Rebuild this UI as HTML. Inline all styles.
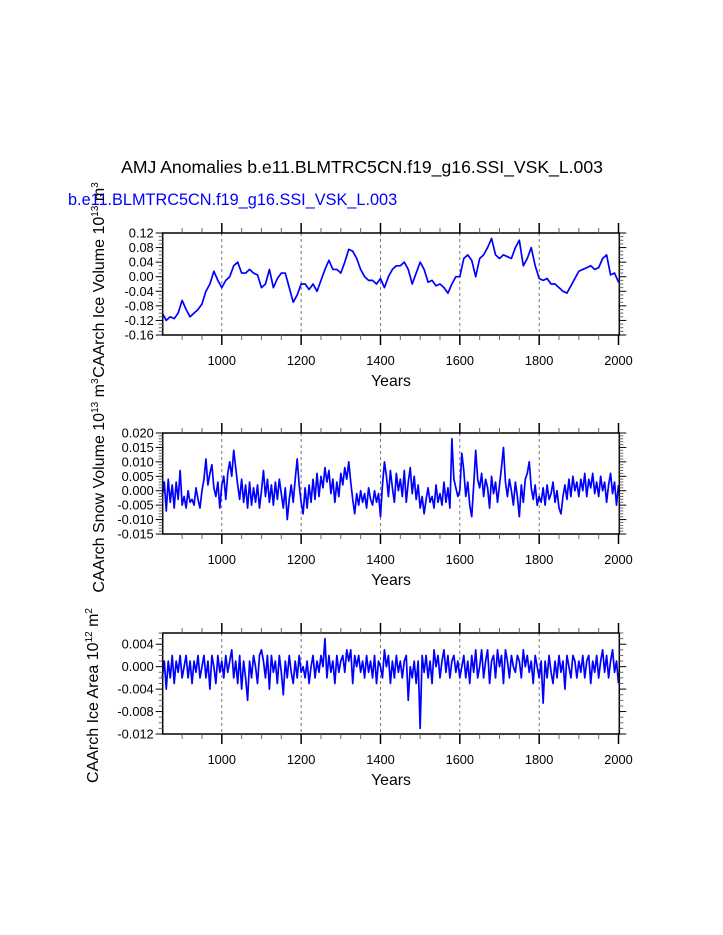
<!DOCTYPE html>
<html><head><meta charset="utf-8">
<style>
html,body{margin:0;padding:0;background:#fff;}
svg{display:block;font-family:"Liberation Sans",Arial,sans-serif;}
</style></head>
<body>
<svg id="chart" width="723" height="935" viewBox="0 0 723 935" xmlns="http://www.w3.org/2000/svg">
<rect width="723" height="935" fill="#fff"/>
<text x="362" y="173" font-size="17.6" text-anchor="middle" fill="#000">AMJ Anomalies b.e11.BLMTRC5CN.f19_g16.SSI_VSK_L.003</text>
<text x="68" y="205" font-size="16.3" fill="#0000ff">b.e11.BLMTRC5CN.f19_g16.SSI_VSK_L.003</text>
<g id="plots"></g>
</svg>
<script>
// Panel 1: ice volume, every 10 years from 850
const years1Start = 850, years1Step = 10;
const iceVolume = [-0.10,-0.12,-0.11,-0.115,-0.10,-0.065,-0.09,-0.11,-0.10,-0.09,-0.075,-0.04,-0.02,0.015,-0.01,-0.03,-0.01,0.0,0.03,0.04,0.01,0.01,0.02,0.01,0.005,-0.03,-0.02,0.02,-0.03,-0.005,0.01,0.01,-0.03,-0.07,-0.05,-0.02,-0.02,-0.035,-0.02,-0.04,-0.01,0.02,0.045,0.02,0.02,0.01,0.04,0.075,0.07,0.05,0.02,0.0,-0.01,-0.01,-0.02,-0.005,-0.03,0.0,0.02,0.03,0.03,0.04,0.02,-0.02,0.01,0.04,0.02,-0.015,-0.01,-0.025,-0.02,-0.03,-0.045,-0.02,0.0,0.0,0.05,0.06,0.045,0.0,0.05,0.06,0.08,0.105,0.06,0.05,0.06,0.055,0.05,0.08,0.1,0.03,0.05,0.08,0.03,-0.005,-0.01,-0.005,-0.02,-0.02,-0.03,-0.04,-0.045,-0.025,-0.005,0.015,0.02,0.025,0.03,0.02,0.025,0.05,0.06,0.005,0.01,-0.015];
// Panel 2: snow volume, every 5 years from 850
const years2Start = 850, years2Step = 5;
const snowVolume = [-0.002,0.003,-0.007,0.004,-0.004,0.002,-0.006,0.003,-0.003,0.007,-0.005,
-0.002,-0.006,0.0,-0.004,-0.003,-0.005,0.001,-0.003,-0.006,0.0,
0.004,0.011,0.002,0.006,0.009,0.001,-0.002,0.003,-0.006,0.002,
0.005,-0.003,0.006,0.010,0.005,0.014,0.008,0.002,-0.003,0.004,
-0.004,0.002,-0.006,0.003,-0.005,0.001,-0.004,0.002,-0.006,0.000,
0.007,-0.002,0.004,-0.004,0.002,-0.005,0.003,-0.003,0.004,-0.001,
-0.006,0.001,-0.010,-0.003,0.002,-0.004,0.004,0.011,0.002,-0.004,
-0.008,0.001,-0.006,0.002,-0.004,0.004,-0.003,0.006,-0.002,0.005,
0.001,0.008,0.003,0.007,-0.001,0.004,-0.004,0.003,-0.002,0.006,
0.002,0.008,0.004,0.010,0.003,-0.003,-0.008,-0.001,-0.005,0.000,
-0.004,-0.001,-0.006,0.001,-0.003,-0.005,0.0,-0.004,-0.001,-0.009,
0.002,0.010,0.005,-0.002,0.007,0.001,-0.004,0.006,0.0,0.004,
-0.002,0.007,-0.004,0.003,0.008,-0.001,0.005,-0.003,0.002,-0.006,
-0.002,-0.008,-0.003,0.001,-0.004,-0.002,-0.006,0.002,-0.004,-0.001,
-0.005,0.003,-0.004,0.001,-0.006,0.018,0.004,0.001,-0.002,0.0,
0.013,0.007,-0.002,0.003,-0.005,-0.009,0.002,0.014,0.004,0.001,
0.006,-0.002,0.004,0.001,-0.006,0.005,-0.001,0.003,-0.004,0.002,
0.008,0.015,0.003,-0.002,0.004,0.0,-0.005,0.003,-0.002,-0.009,
0.002,-0.004,0.004,0.006,0.010,0.001,-0.003,0.002,-0.005,-0.002,
-0.004,0.001,-0.005,0.002,-0.003,-0.001,0.003,-0.004,0.0,-0.006,
-0.008,-0.002,0.002,-0.003,0.004,-0.002,0.005,0.000,0.003,-0.002,
0.004,0.000,0.006,-0.002,0.004,0.001,0.006,-0.001,0.003,-0.002,
0.005,0.000,0.003,-0.004,0.002,0.006,-0.001,0.003,-0.005,0.002];
// Panel 3: ice area, every 5 years from 850
const years3Start = 850, years3Step = 5;
const iceArea = [-0.002,0.001,-0.004,0.001,-0.002,0.002,-0.003,0.001,-0.001,0.002,-0.002,
0.0,0.002,-0.002,0.001,-0.003,0.001,-0.001,0.002,-0.002,0.0,
0.002,-0.002,0.001,-0.004,0.002,0.0,-0.003,0.002,-0.001,0.001,
-0.002,0.002,-0.001,0.001,0.003,-0.002,0.001,-0.003,0.002,-0.004,
0.001,-0.002,-0.006,0.001,-0.002,0.002,0.0,-0.003,0.002,0.003,
0.001,-0.002,0.002,-0.004,0.002,-0.001,0.001,-0.003,0.002,-0.001,
-0.005,0.001,-0.002,0.002,-0.001,-0.003,0.001,-0.002,0.002,-0.001,
0.0,-0.002,0.001,-0.003,0.0,0.002,-0.002,0.001,-0.001,0.002,
0.0,0.005,-0.002,0.002,-0.001,0.001,-0.003,0.002,-0.001,0.001,
0.002,-0.001,0.003,0.001,0.003,-0.003,0.002,0.0,0.002,-0.001,
0.001,-0.002,0.002,-0.001,0.001,-0.002,0.002,-0.003,0.001,0.0,
-0.002,0.003,0.0,0.002,-0.003,0.001,-0.002,0.002,-0.001,0.001,
-0.002,0.001,0.002,-0.006,0.0,-0.002,0.001,-0.003,0.001,-0.011,
0.002,-0.001,0.002,-0.002,0.001,-0.003,0.003,0.0,0.002,-0.002,
0.001,0.003,-0.001,0.002,-0.002,0.001,0.002,-0.001,0.001,-0.002,
0.0,0.002,-0.002,0.001,-0.003,0.002,-0.001,0.003,-0.002,0.0,
0.003,-0.002,0.001,0.003,-0.003,0.001,0.002,-0.002,0.003,0.0,
0.002,-0.003,0.003,0.001,-0.002,0.002,0.0,-0.001,0.002,0.001,
-0.002,0.003,0.0,0.002,-0.001,0.001,-0.003,0.002,0.0,-0.002,
0.001,-0.0065,0.001,-0.002,0.002,-0.001,-0.003,0.001,-0.002,0.002,
-0.001,0.001,-0.004,0.002,0.0,-0.002,0.002,0.001,-0.002,0.001,
-0.001,0.002,-0.002,0.001,0.002,-0.003,0.001,-0.001,0.002,-0.002,
0.001,0.003,-0.001,0.002,-0.002,0.001,0.003,-0.001,0.001,-0.003];
const xTickLabels = [1000,1200,1400,1600,1800,2000];
const ticks1 = ["0.12","0.08","0.04","0.00","-0.04","-0.08","-0.12","-0.16"];
const ticks2 = ["0.020","0.015","0.010","0.005","0.000","-0.005","-0.010","-0.015"];
const ticks3 = ["0.004","0.000","-0.004","-0.008","-0.012"];

const NS="http://www.w3.org/2000/svg";
const root=document.getElementById('plots');
const X0=162.7,X1=619.3,XMIN=851,XMAX=2002;
function xs(y){return X0+(y-XMIN)/(XMAX-XMIN)*(X1-X0);}
function mk(tag,attrs,parent){const e=document.createElementNS(NS,tag);for(const k in attrs)e.setAttribute(k,attrs[k]);(parent||root).appendChild(e);return e;}

function panel(cfg){
  const g=mk('g',{});
  
  
  const ys=v=>cfg.top+(cfg.ymax-v)/(cfg.ymax-cfg.ymin)*(cfg.bot-cfg.top);
  xTickLabels.forEach(t=>{if(t<2000){const l=mk('line',{x1:xs(t),x2:xs(t),y1:cfg.top,y2:cfg.bot,stroke:'#555','stroke-width':0.8,'stroke-dasharray':'3,3'},g);
    
    }});
  let d='';
  cfg.data.forEach((v,i)=>{const yr=cfg.start+i*cfg.step;d+=(i?'L':'M')+xs(yr).toFixed(2)+','+ys(v).toFixed(2);});
  const p=mk('path',{d:d,fill:'none',stroke:'#0000ff','stroke-width':1.7,'stroke-linejoin':'round'},g);
  
  
  const fr=mk('rect',{x:X0,y:cfg.top,width:X1-X0,height:cfg.bot-cfg.top,fill:'none',stroke:'#000','stroke-width':1.5},g);
  
  
  for(let t=900;t<=2000;t+=50){
    const maj=t%200===0, len=maj?10:5;
    mk('line',{x1:xs(t),x2:xs(t),y1:cfg.top,y2:cfg.top-len,stroke:maj?'#000':'#666','stroke-width':maj?1.5:1},g);
    mk('line',{x1:xs(t),x2:xs(t),y1:cfg.bot,y2:cfg.bot+len,stroke:maj?'#000':'#666','stroke-width':maj?1.5:1},g);
  }
  xTickLabels.forEach(t=>{const tx=mk('text',{x:xs(t),y:cfg.bot+30,'font-size':12.8,'text-anchor':'middle'},g);tx.textContent=t;
    
    });
  const xt=mk('text',{x:391,y:cfg.bot+51,'font-size':15.8,'text-anchor':'middle'},g);xt.textContent='Years';
  
  
  const n=Math.round((cfg.ymax-cfg.ymin)/cfg.minor);
  for(let i=0;i<=n;i++){
    const v=cfg.ymin+i*cfg.minor;const yy=ys(v);
    const maj=Math.abs(v/cfg.major-Math.round(v/cfg.major))<1e-6, len=maj?7:4;
    mk('line',{x1:X0,x2:X0-len,y1:yy,y2:yy,stroke:maj?'#000':'#666','stroke-width':1},g);
    mk('line',{x1:X1,x2:X1+len,y1:yy,y2:yy,stroke:maj?'#000':'#666','stroke-width':1},g);
  }
  cfg.labels.forEach(s=>{const v=parseFloat(s);const tx=mk('text',{x:X0-9,y:ys(v)+4.5,'font-size':12.8,'text-anchor':'end'},g);tx.textContent=s;
    
    });
  const cy=(cfg.top+cfg.bot)/2+cfg.dy;
  const yt=mk('text',{x:0,y:0,'font-size':16,'text-anchor':'middle',transform:`translate(${cfg.tx},${cy}) rotate(-90)`},g);
  
  
  yt.innerHTML=cfg.title;
}
panel({name:'ice-volume-panel',seriesName:'ice-volume-line',top:233,bot:335,ymin:-0.16,ymax:0.12,major:0.04,minor:0.01,labels:ticks1,data:iceVolume,start:years1Start,step:years1Step,tx:104,dy:-4,
  title:'CAArch Ice Volume 10<tspan dy="-6" font-size="10">13</tspan><tspan dy="6"> m</tspan><tspan dy="-6" font-size="10">3</tspan>'});
panel({name:'snow-volume-panel',seriesName:'snow-volume-line',top:433,bot:534,ymin:-0.015,ymax:0.020,major:0.005,minor:0.001,labels:ticks2,data:snowVolume,start:years2Start,step:years2Step,tx:104,dy:2,
  title:'CAArch Snow Volume 10<tspan dy="-6" font-size="10">13</tspan><tspan dy="6"> m</tspan><tspan dy="-6" font-size="10">3</tspan>'});
panel({name:'ice-area-panel',seriesName:'ice-area-line',top:633,bot:734,ymin:-0.012,ymax:0.006,major:0.004,minor:0.001,labels:ticks3,data:iceArea,start:years3Start,step:years3Step,tx:98,dy:12,
  title:'CAArch Ice Area 10<tspan dy="-6" font-size="10">12</tspan><tspan dy="6"> m</tspan><tspan dy="-6" font-size="10">2</tspan>'});
</script>
</body></html>
